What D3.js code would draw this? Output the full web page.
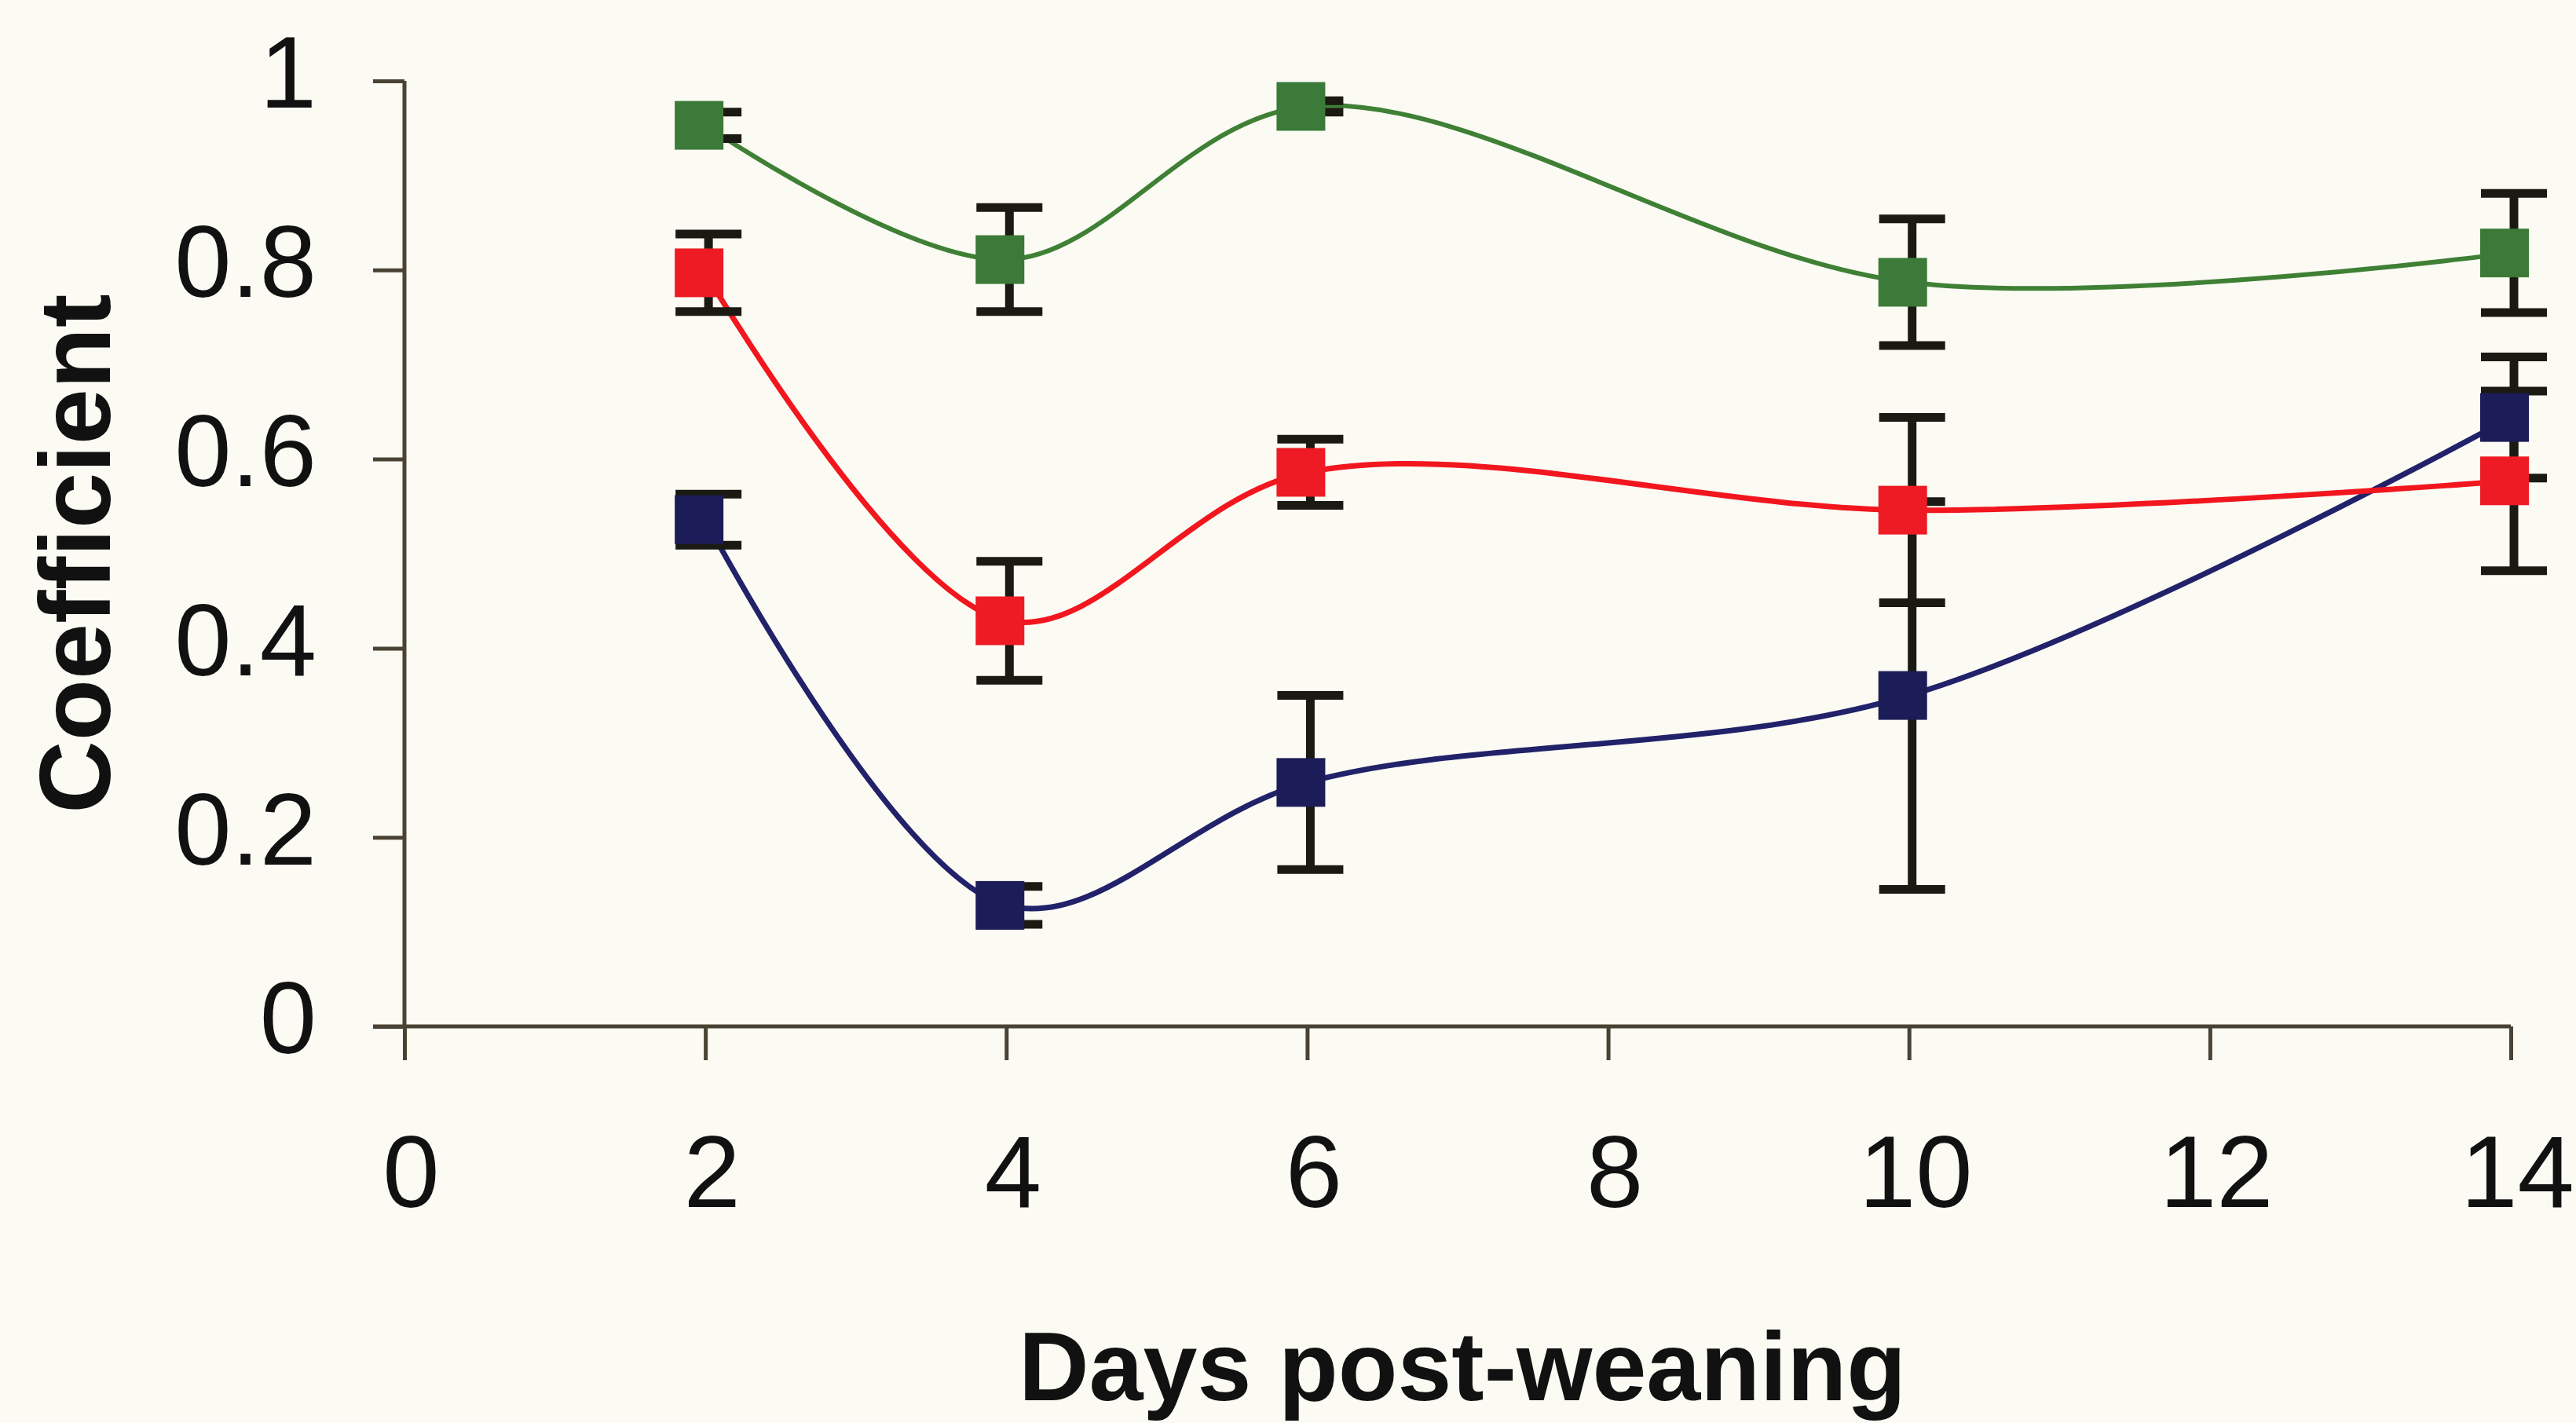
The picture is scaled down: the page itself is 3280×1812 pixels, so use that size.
<!DOCTYPE html>
<html>
<head>
<meta charset="utf-8">
<script src="https://cdn.jsdelivr.net/npm/d3@7"></script>
<style>
  html, body { margin: 0; padding: 0; background: #fbfbf4; }
  svg { display: block; }
  text { font-family: "Liberation Sans", Arial, sans-serif; fill: #111; }
</style>
</head>
<body>
<svg id="chart" width="3280" height="1812"></svg>
<script>
// ---- data ----
const days = [2, 4, 6, 10, 14];
const greenValues = [0.953, 0.811, 0.973, 0.787, 0.818];
const greenErrors = [0.014, 0.055, 0.006, 0.067, 0.063];
const redValues   = [0.797, 0.429, 0.586, 0.546, 0.577];
const redErrors   = [0.041, 0.063, 0.035, 0.098, 0.095];
const blueValues  = [0.536, 0.128, 0.258, 0.350, 0.644];
const blueErrors  = [0.027, 0.020, 0.092, 0.205, 0.064];
const xTicks = [0, 2, 4, 6, 8, 10, 12, 14];
const yTicks = [0, 0.2, 0.4, 0.6, 0.8, 1];
const xTitle = "Days post-weaning";
const yTitle = "Coefficient";

const series = [
  { name: "blue",  values: blueValues,  errors: blueErrors,  line: "#22226a", fill: "#1c1c58", lw: 7 },
  { name: "red",   values: redValues,   errors: redErrors,   line: "#f2161e", fill: "#ee1b24", lw: 7 },
  { name: "green", values: greenValues, errors: greenErrors, line: "#3f8035", fill: "#3b7a38", lw: 6 }
];

// ---- layout ----
const svg = d3.select("#chart");
svg.append("rect").attr("width", 3280).attr("height", 1812).attr("fill", "#fbfbf4");

const x = d3.scaleLinear().domain([0, 14]).range([515, 3197]);
const y = d3.scaleLinear().domain([0, 1]).range([1307, 103]);

const axisColor = "#4a4232";

// y axis
const yAxis = svg.append("g")
  .attr("transform", `translate(${x(0)},0)`)
  .call(d3.axisLeft(y).tickValues(yTicks).tickSize(40).tickPadding(72)
        .tickFormat(d => d3.format("")(d)));
yAxis.select(".domain").attr("stroke", axisColor).attr("stroke-width", 5)
  .attr("d", `M0,${y(1)}V${y(0)}`);
yAxis.selectAll(".tick line").attr("stroke", axisColor).attr("stroke-width", 5);
yAxis.selectAll(".tick text")
  .attr("font-size", 130).attr("font-family", "Liberation Sans, Arial, sans-serif")
  .attr("fill", "#111").attr("dy", "0.26em");

// x axis
const xAxis = svg.append("g")
  .attr("transform", `translate(0,${y(0)})`)
  .call(d3.axisBottom(x).tickValues(xTicks).tickSize(43).tickPadding(95)
        .tickFormat(d3.format("d")));
xAxis.select(".domain").attr("stroke", axisColor).attr("stroke-width", 5)
  .attr("d", `M${x(0) - 40},0H${x(14)}`);
xAxis.selectAll(".tick line").attr("stroke", axisColor).attr("stroke-width", 5);
xAxis.selectAll(".tick text")
  .attr("font-size", 130).attr("font-family", "Liberation Sans, Arial, sans-serif")
  .attr("fill", "#111").attr("dx", 8);

// axis titles
svg.append("text")
  .attr("x", 1862).attr("y", 1783)
  .attr("text-anchor", "middle")
  .attr("font-size", 124).attr("font-weight", "bold")
  .text(xTitle);

svg.append("text")
  .attr("transform", "translate(140,705) rotate(-90)")
  .attr("text-anchor", "middle")
  .attr("font-size", 128).attr("font-weight", "bold")
  .text(yTitle);

// ---- lines ----
const line = d3.line()
  .x(d => x(d.day)).y(d => y(d.v))
  .curve(d3.curveCatmullRom.alpha(0.5));

series.forEach(s => {
  s.points = days.map((day, i) => ({ day, v: s.values[i], e: s.errors[i] }));
});

svg.append("g").selectAll("path")
  .data(series).join("path")
  .attr("d", s => line(s.points))
  .attr("fill", "none")
  .attr("stroke", s => s.line)
  .attr("stroke-width", s => s.lw)
  .attr("stroke-linejoin", "round");

// ---- error bars ----
const capHalf = 42;
const eb = svg.append("g").attr("stroke", "#1a1a12").attr("stroke-width", 11);
series.forEach(s => {
  const g = eb.append("g");
  g.selectAll("line.v").data(s.points).join("line").attr("class", "v")
    .attr("x1", d => x(d.day) + 4).attr("x2", d => x(d.day) + 4)
    .attr("y1", d => y(d.v + d.e)).attr("y2", d => y(d.v - d.e));
  g.selectAll("line.t").data(s.points).join("line").attr("class", "t")
    .attr("x1", d => x(d.day) + 4 - capHalf).attr("x2", d => x(d.day) + 4 + capHalf)
    .attr("y1", d => y(d.v + d.e)).attr("y2", d => y(d.v + d.e));
  g.selectAll("line.b").data(s.points).join("line").attr("class", "b")
    .attr("x1", d => x(d.day) + 4 - capHalf).attr("x2", d => x(d.day) + 4 + capHalf)
    .attr("y1", d => y(d.v - d.e)).attr("y2", d => y(d.v - d.e));
});

// ---- markers ----
const ms = 62;
series.forEach(s => {
  svg.append("g").selectAll("rect")
    .data(s.points).join("rect")
    .attr("x", d => x(d.day) - ms / 2 - 8)
    .attr("y", d => y(d.v) - ms / 2)
    .attr("width", ms).attr("height", ms)
    .attr("fill", s.fill);
});
</script>
</body>
</html>
